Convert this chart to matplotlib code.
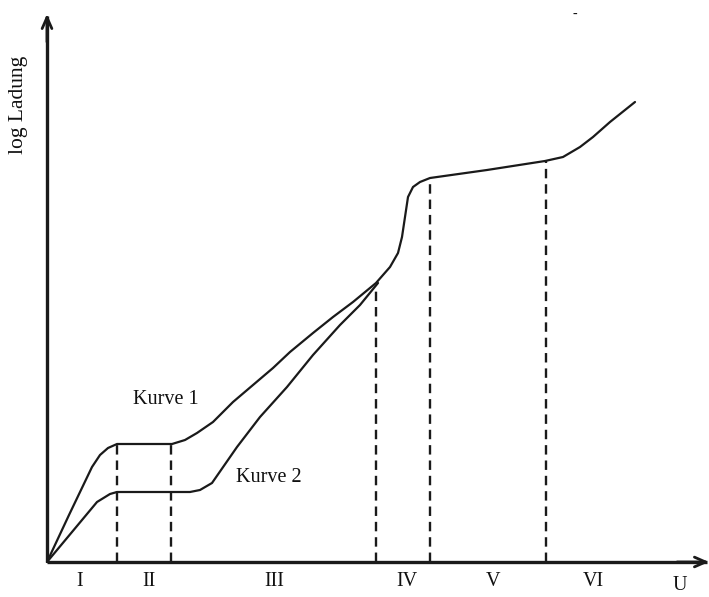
import matplotlib
matplotlib.use("Agg")
import matplotlib.pyplot as plt

# Data (arbitrary units: U along x, log charge along y)
curve1_u = [0, 22, 45, 53, 61, 70, 125, 138, 150, 166, 186, 206, 226, 243, 266, 286, 306, 329,
            343, 351, 355, 358, 361, 366, 373, 383, 440, 498, 516, 533, 546, 563, 588]
curve1_q = [0, 47, 95, 107, 114, 118, 118, 122, 129, 140, 160, 177, 194, 210, 229, 245, 260, 279,
            295, 309, 325, 345, 365, 375, 380, 384, 392, 401, 405, 415, 425, 440, 460]
curve2_u = [0, 25, 50, 63, 70, 143, 153, 165, 190, 213, 240, 266, 293, 313, 331]
curve2_q = [0, 30, 60, 68, 70, 70, 72, 79, 115, 145, 175, 207, 237, 257, 279]

region_bounds_u = [70, 124, 329, 383, 499]
region_bounds_q = [118, 118, 272, 384, 401]
region_labels = ["I", "II", "III", "IV", "V", "VI"]
region_label_u = [33, 102, 227, 360, 446, 546]
curve_names = ["Kurve 1", "Kurve 2"]
curve_name_u = [119, 222]
curve_name_q = [162, 84]

serif = ["Liberation Serif", "DejaVu Serif"]
ink = "#1a1a1a"

fig = plt.figure(figsize=(7.09, 5.97), dpi=100)
ax = fig.add_axes([0, 0, 1, 1])
ax.set_xlim(-47, 662)
ax.set_ylim(-35, 562)
ax.axis("off")

# axes lines with open arrowheads
ax.plot([0, 660], [0, 0], color=ink, lw=2.4, solid_capstyle="butt")
ax.plot([0, 0], [0, 546], color=ink, lw=2.4, solid_capstyle="butt")
ax.annotate("", xy=(662, 0), xytext=(630, 0),
            arrowprops=dict(arrowstyle="->,head_length=0.8,head_width=0.35", lw=2.0, color=ink,
                            shrinkA=0, shrinkB=0))
ax.annotate("", xy=(0, 548), xytext=(0, 520),
            arrowprops=dict(arrowstyle="->,head_length=0.8,head_width=0.35", lw=2.0, color=ink,
                            shrinkA=0, shrinkB=0))

# curves
ax.plot(curve1_u, curve1_q, color=ink, lw=1.6, solid_capstyle="round", solid_joinstyle="round")
ax.plot(curve2_u, curve2_q, color=ink, lw=1.6, solid_capstyle="round", solid_joinstyle="round")

# region boundaries
for u, q in zip(region_bounds_u, region_bounds_q):
    ax.plot([u, u], [0, q], color=ink, lw=1.7, ls=(0, (4, 2.5)))

# labels
for lab, u in zip(region_labels, region_label_u):
    ax.text(u, -20, lab, ha="center", va="center", fontsize=14.5, family=serif, color="#111111")
ax.text(633, -24, "U", ha="center", va="center", fontsize=14.5, family=serif, color="#111111")
for name, u, q in zip(curve_names, curve_name_u, curve_name_q):
    ax.text(u, q, name, ha="center", va="center", fontsize=14.5, family=serif, color="#111111")
ax.text(-28, 457, "log Ladung", rotation=90, ha="center", va="center", fontsize=15.5,
        family=serif, color="#111111")
ax.text(528, 548, "-", ha="center", va="center", fontsize=10, family=serif, color="#111111")

fig.savefig("out.png", dpi=100)
